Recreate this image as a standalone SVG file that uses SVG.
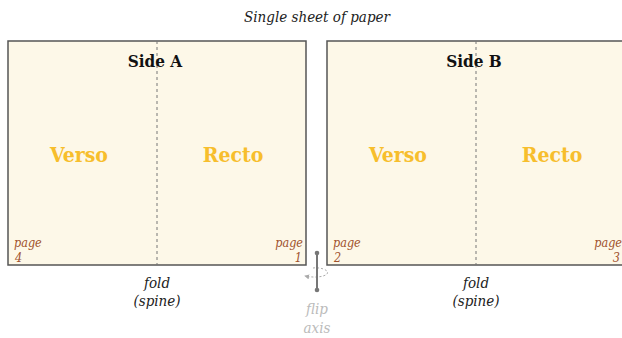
<svg xmlns="http://www.w3.org/2000/svg" width="622" height="338" viewBox="0 0 622 338">
<style>
.sheet{fill:#fdf8e8;stroke:#555;stroke-width:1.5}
.fold{stroke:#777;stroke-width:1;stroke-dasharray:3,3}
.side{font-size:17px;font-weight:bold;fill:#111;text-anchor:middle}
.vr{font-size:21px;font-weight:bold;fill:#f7be2c;text-anchor:middle}
.pg{font-size:12.5px;font-style:italic;fill:#a0522d}
.cap{font-size:15px;font-style:italic;fill:#222;text-anchor:middle}
.flip{font-size:15px;font-style:italic;fill:#bbb;text-anchor:middle}
</style>
<defs>
<marker id="ah" viewBox="0 0 6 6" refX="5" refY="3" markerWidth="5" markerHeight="5" orient="auto"><path d="M0,0 L6,3 L0,6 z" fill="#aaa"/></marker>
</defs>
<g font-family="DejaVu Serif Condensed, DejaVu Serif, serif">
<text class="cap" x="317" y="22">Single sheet of paper</text>
<g id="sideA">
<rect class="sheet" x="8" y="41" width="298" height="224"/>
<line class="fold" x1="157" y1="41" x2="157" y2="265"/>
<text class="side" x="155" y="67">Side A</text>
<text class="vr" x="79" y="162">Verso</text>
<text class="vr" x="233" y="162">Recto</text>
<text class="pg" x="14" y="247">page</text>
<text class="pg" x="15" y="262">4</text>
<text class="pg" x="303" y="247" text-anchor="end">page</text>
<text class="pg" x="302" y="262" text-anchor="end">1</text>
<text class="cap" x="157" y="288">fold</text>
<text class="cap" x="157" y="306">(spine)</text>
</g>
<g id="sideB">
<rect class="sheet" x="327" y="41" width="298" height="224"/>
<line class="fold" x1="476" y1="41" x2="476" y2="265"/>
<text class="side" x="474" y="67">Side B</text>
<text class="vr" x="398" y="162">Verso</text>
<text class="vr" x="552" y="162">Recto</text>
<text class="pg" x="333" y="247">page</text>
<text class="pg" x="334" y="262">2</text>
<text class="pg" x="622" y="247" text-anchor="end">page</text>
<text class="pg" x="620" y="262" text-anchor="end">3</text>
<text class="cap" x="476" y="288">fold</text>
<text class="cap" x="476" y="306">(spine)</text>
</g>
<g id="flipAxis">
<path d="M313,268 C320,267 330,270 327,274 C324,277 314,278 305,276" fill="none" stroke="#aaa" stroke-width="1" stroke-dasharray="2,2" marker-end="url(#ah)"/>
<line x1="317" y1="253" x2="317" y2="290" stroke="#777" stroke-width="2"/>
<circle cx="317" cy="253" r="2.3" fill="#777"/>
<circle cx="317" cy="290" r="2.3" fill="#777"/>
<text class="flip" x="317" y="314">flip</text>
<text class="flip" x="317" y="333">axis</text>
</g>
</g>
</svg>
